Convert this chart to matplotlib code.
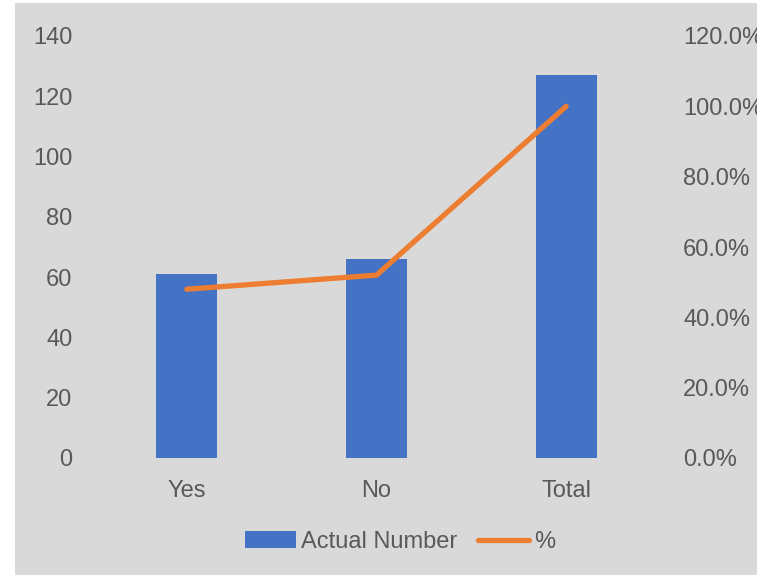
import matplotlib.pyplot as plt
from matplotlib.patches import Rectangle
from matplotlib.ticker import PercentFormatter

# ---- DATA ----
categories = ["Yes", "No", "Total"]
actual_number = [61, 66, 127]
percent = [48.0, 52.0, 100.0]

BLUE = "#4472C4"
ORANGE = "#ED7D31"
GREY_BG = "#D9D9D9"
TEXT = "#595959"
FS = 17

plt.rcParams["font.family"] = ["Liberation Sans", "DejaVu Sans"]
plt.rcParams["font.size"] = FS

fig = plt.figure(figsize=(7.57, 5.75), dpi=100, facecolor="white")
fig.patches.append(Rectangle((15 / 757, 0), 1, 1 - 3 / 575, transform=fig.transFigure,
                             facecolor=GREY_BG, edgecolor="none", zorder=-10))

ax = fig.add_axes([92 / 757, 1 - 458 / 575, (661 - 92) / 757, (458 - 36) / 575])
ax.set_facecolor("none")
x = range(len(categories))
bars = ax.bar(x, actual_number, width=0.32, color=BLUE, label="Actual Number", zorder=2)
ax.set_xlim(-0.5, 2.5)
ax.set_ylim(0, 140)
ax.set_yticks(range(0, 141, 20))
ax.set_xticks(list(x))
ax.set_xticklabels(categories)

ax2 = ax.twinx()
line, = ax2.plot(x, percent, color=ORANGE, linewidth=3.8, solid_capstyle="round",
                 solid_joinstyle="round", label="%", zorder=3)
ax2.set_ylim(0, 120)
ax2.set_yticks(range(0, 121, 20))
ax2.yaxis.set_major_formatter(PercentFormatter(decimals=1))

for a in (ax, ax2):
    for s in a.spines.values():
        s.set_visible(False)
    a.tick_params(length=0, colors=TEXT, labelsize=FS)
ax.tick_params(axis="x", pad=15.5)
ax.tick_params(axis="y", pad=14)
ax2.tick_params(axis="y", pad=16)

leg = fig.legend([bars, line], ["Actual Number", "%"], loc="center",
                 bbox_to_anchor=(400 / 757, 1 - 542 / 575), ncol=2, frameon=False,
                 handlelength=2.15, handletextpad=0.2, columnspacing=0.9, fontsize=FS)
for t in leg.get_texts():
    t.set_color(TEXT)

plt.savefig("out.png", dpi=100, facecolor=fig.get_facecolor())
